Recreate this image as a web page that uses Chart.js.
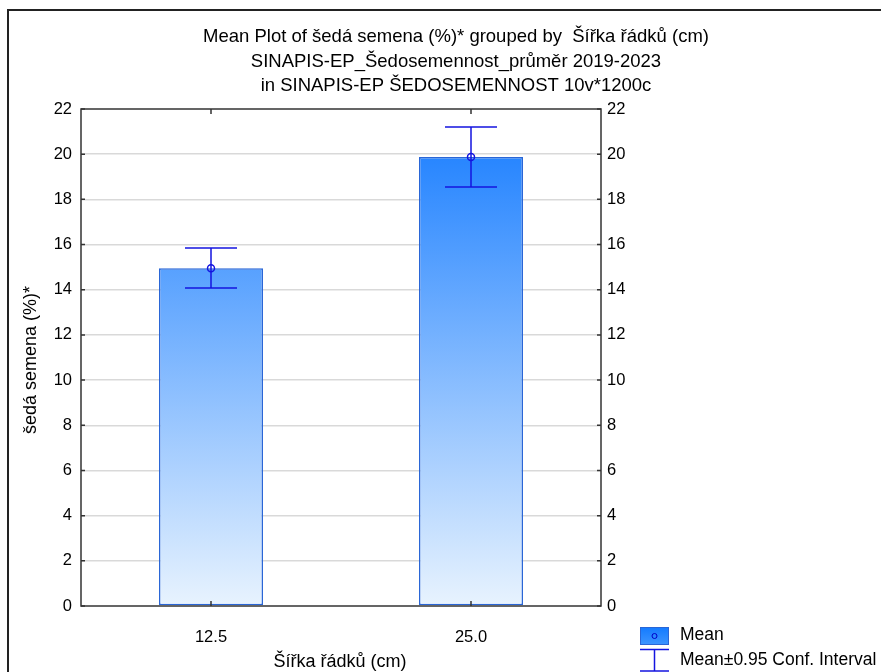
<!DOCTYPE html>
<html>
<head>
<meta charset="utf-8">
<script src="https://cdn.jsdelivr.net/npm/chart.js@4"></script>
<style>
  html, body { margin: 0; padding: 0; background: #fff; }
  #wrap { width: 881px; height: 672px; }
</style>
</head>
<body>
<div id="wrap"><canvas id="mean-chart" width="881" height="672"></canvas></div>
<script>
const categories = ["12.5", "25.0"];
const means = [14.95, 19.88];
const ciLow = [14.08, 18.55];
const ciHigh = [15.85, 21.2];

const titleLines = [
  "Mean Plot of šedá semena (%)* grouped by  Šířka řádků (cm)",
  "SINAPIS-EP_Šedosemennost_průměr 2019-2023",
  "in SINAPIS-EP ŠEDOSEMENNOST 10v*1200c",
];
const xTitle = "Šířka řádků (cm)";
const yTitle = "šedá semena (%)*";
const legendLabels = ["Mean", "Mean±0.95 Conf. Interval"];

const FONT = "'Liberation Sans', Arial, sans-serif";
const errColor = "#1414e0";
const barBorder = "#2a66d6";

function barGradient(ctx, area) {
  const g = ctx.createLinearGradient(0, area.top, 0, area.bottom);
  g.addColorStop(0, "#137aff");
  g.addColorStop(1, "#e8f3fe");
  return g;
}

// frame, titles, axis titles, error bars, legend
const decor = {
  id: "decor",
  beforeDraw(chart) {
    const c = chart.ctx;
    c.save();
    c.fillStyle = "#fff";
    c.fillRect(0, 0, chart.width, chart.height);
    c.strokeStyle = "#222";
    c.lineWidth = 2;
    c.beginPath();
    c.moveTo(8, chart.height);
    c.lineTo(8, 10);
    c.lineTo(chart.width, 10);
    c.stroke();

    c.fillStyle = "#000";
    c.font = "18.5px " + FONT;
    c.textAlign = "center";
    c.textBaseline = "middle";
    const ys = [37, 62, 86];
    titleLines.forEach((t, i) => c.fillText(t, 456, ys[i]));
    c.restore();
  },
  afterDatasetsDraw(chart) {
    const c = chart.ctx;
    const area = chart.chartArea;
    const x = chart.scales.x;
    const y = chart.scales.y;
    c.save();

    // error bars
    const meta = chart.getDatasetMeta(0);
    c.strokeStyle = errColor;
    c.lineWidth = 1.5;
    means.forEach((m, i) => {
      const bar = meta.data[i];
      const cx = x.getPixelForValue(i);
      const half = bar.width / 4;
      const yt = y.getPixelForValue(ciHigh[i]);
      const yb = y.getPixelForValue(ciLow[i]);
      c.beginPath();
      c.moveTo(cx - half, yt); c.lineTo(cx + half, yt);
      c.moveTo(cx, yt); c.lineTo(cx, yb);
      c.moveTo(cx - half, yb); c.lineTo(cx + half, yb);
      c.stroke();
      c.beginPath();
      c.arc(cx, y.getPixelForValue(m), 3.5, 0, Math.PI * 2);
      c.stroke();
    });

    // plot box
    c.strokeStyle = "#333";
    c.lineWidth = 1.5;
    c.strokeRect(area.left, area.top, area.right - area.left, area.bottom - area.top);

    // inward tick marks
    c.beginPath();
    y.ticks.forEach(t => {
      const py = y.getPixelForValue(t.value);
      c.moveTo(area.left, py); c.lineTo(area.left + 4, py);
      c.moveTo(area.right, py); c.lineTo(area.right - 4, py);
    });
    categories.forEach((_, i) => {
      const px = x.getPixelForValue(i);
      c.moveTo(px, area.bottom); c.lineTo(px, area.bottom - 5);
      c.moveTo(px, area.top); c.lineTo(px, area.top + 5);
    });
    c.stroke();

    // axis titles
    c.fillStyle = "#000";
    c.font = "18px " + FONT;
    c.textAlign = "center";
    c.textBaseline = "middle";
    c.fillText(xTitle, 340, 662);
    c.save();
    c.translate(31, 360);
    c.rotate(-Math.PI / 2);
    c.fillText(yTitle, 0, 0);
    c.restore();

    // legend
    const lg = c.createLinearGradient(0, 627, 0, 644);
    lg.addColorStop(0, "#137aff");
    lg.addColorStop(1, "#3b94ff");
    c.fillStyle = lg;
    c.fillRect(640, 627, 28, 17);
    c.strokeStyle = barBorder;
    c.lineWidth = 1;
    c.strokeRect(640.5, 627.5, 28, 17);
    c.strokeStyle = "#0000c8";
    c.beginPath();
    c.arc(654.5, 636, 2.5, 0, Math.PI * 2);
    c.stroke();
    c.strokeStyle = errColor;
    c.lineWidth = 1.5;
    c.beginPath();
    c.moveTo(640, 649.5); c.lineTo(669, 649.5);
    c.moveTo(654.5, 649.5); c.lineTo(654.5, 671);
    c.moveTo(640, 671); c.lineTo(669, 671);
    c.stroke();
    c.fillStyle = "#000";
    c.textAlign = "left";
    c.font = "17.5px " + FONT;
    c.fillText(legendLabels[0], 680, 635);
    c.fillText(legendLabels[1], 680, 660);
    c.restore();
  },
};

new Chart(document.getElementById("mean-chart"), {
  type: "bar",
  data: {
    labels: categories,
    datasets: [{
      data: means,
      backgroundColor: (ctx) => {
        const area = ctx.chart.chartArea;
        if (!area) return "#4a9cff";
        return barGradient(ctx.chart.ctx, area);
      },
      borderColor: barBorder,
      borderWidth: 1.5,
      borderSkipped: false,
      barPercentage: 0.4,
      categoryPercentage: 1.0,
    }],
  },
  options: {
    responsive: false,
    animation: false,
    devicePixelRatio: 1,
    layout: { padding: { left: 0, top: 109, right: 240, bottom: 0 } },
    plugins: { legend: { display: false }, title: { display: false }, tooltip: { enabled: false } },
    scales: {
      x: {
        offset: true,
        grid: { display: false },
        border: { display: false },
        ticks: { color: "#000", font: { family: FONT, size: 16.5 }, padding: 14 },
        afterFit: (s) => { s.height = 66; },
      },
      y: {
        position: "left",
        min: 0, max: 22,
        grid: {
          drawTicks: false,
          color: (ctx) => (ctx.tick.value === 0 || ctx.tick.value === 22) ? "rgba(0,0,0,0)" : "#d9d9d9",
          lineWidth: 1.5,
        },
        border: { display: false },
        ticks: { stepSize: 2, color: "#000", font: { family: FONT, size: 16.5 }, padding: 9 },
        afterFit: (s) => { s.width = 81; },
      },
      y2: {
        position: "right",
        min: 0, max: 22,
        grid: { display: false, drawTicks: false },
        border: { display: false },
        ticks: { stepSize: 2, color: "#000", font: { family: FONT, size: 16.5 }, padding: 6 },
        afterFit: (s) => { s.width = 40; },
      },
    },
  },
  plugins: [decor],
});
</script>
</body>
</html>
